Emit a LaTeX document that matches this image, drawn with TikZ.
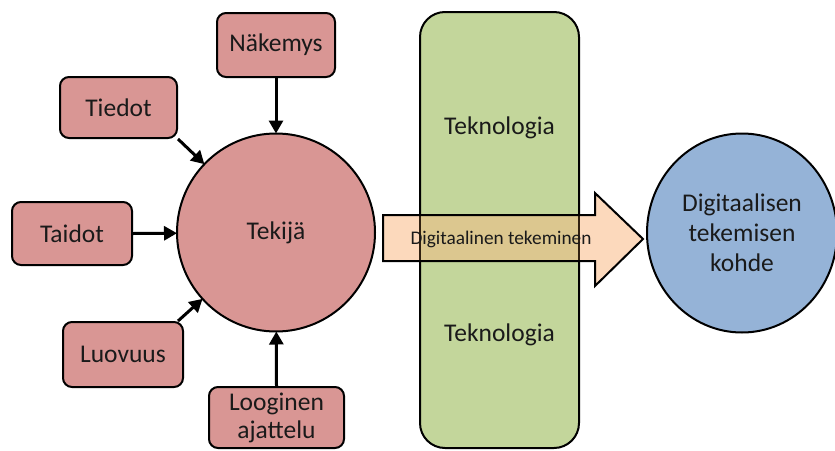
\documentclass[tikz,border=0pt]{standalone}
\usepackage{fontspec}
\setmainfont{Carlito}
\usetikzlibrary{arrows.meta,shapes.geometric}
\definecolor{pinkf}{HTML}{D99694}
\definecolor{greenf}{HTML}{C3D69B}
\definecolor{peachf}{HTML}{FCD9BC}
\definecolor{overf}{HTML}{DCC78F}
\definecolor{bluef}{HTML}{95B3D7}
\definecolor{txt}{HTML}{1A1A1A}
\tikzset{
  inbox/.style={draw=black, line width=2pt, fill=pinkf, rounded corners=9pt, align=center,
    font=\fontsize{25.5}{28}\selectfont, text=txt, inner sep=0pt},
  feed/.style={line width=3pt, -{Triangle[length=13pt,width=14pt]}, shorten >=-1pt},
}
\begin{document}
\begin{tikzpicture}[x=1pt,y=-1pt]
\useasboundingbox (0,0) rectangle (835,450);
% input boxes
\node[inbox, minimum width=118pt, minimum height=64pt] (nak) at (276,45) {Näkemys};
\node[inbox, minimum width=117pt, minimum height=61pt] (tie) at (118.5,107.5) {Tiedot};
\node[inbox, minimum width=120pt, minimum height=63pt] (tai) at (72,233.5) {Taidot};
\node[inbox, minimum width=120pt, minimum height=65pt] (luo) at (123,354.5) {Luovuus};
\node[inbox, minimum width=135pt, minimum height=61pt] (loo) at (276.5,417.5) {Looginen\\ajattelu};
% central circle
\node[circle, draw=black, line width=2pt, fill=pinkf, minimum size=198pt, inner sep=0pt,
  font=\fontsize{25.5}{28}\selectfont, text=txt] (tek) at (276,232.5) {Tekijä};
% connectors
\draw[feed] (nak.south) -- (tek);
\draw[feed] (tie.south east) -- (tek);
\draw[feed] (tai.east) -- (tek);
\draw[feed] ([xshift=-6pt]luo.north east) -- (tek);
\draw[feed] (loo.north) -- (tek);
% technology column
\node[draw=black, line width=2pt, fill=greenf, rounded corners=25pt, minimum width=159pt,
  minimum height=436pt, inner sep=0pt] (tech) at (499.5,230) {};
\node[font=\fontsize{25.5}{28}\selectfont, text=txt] (tk1) at (499.5,128) {Teknologia};
\node[font=\fontsize{25.5}{28}\selectfont, text=txt] (tk2) at (499.5,335) {Teknologia};
% big arrow
\coordinate (a1) at (383,215);
\coordinate (a2) at (595,215);
\coordinate (a3) at (595,193);
\coordinate (a4) at (643,239);
\coordinate (a5) at (595,286);
\coordinate (a6) at (595,261);
\coordinate (a7) at (383,261);
\fill[peachf] (a1) -- (a2) -- (a3) -- (a4) -- (a5) -- (a6) -- (a7) -- cycle;
\fill[overf] (420,215) rectangle (579,261);
\draw[black!75!brown, line width=1.5pt] (420,215) -- (420,261) (579,215) -- (579,261);
\draw[black, line width=2pt, line join=miter] (a1) -- (a2) -- (a3) -- (a4) -- (a5) -- (a6) -- (a7) -- cycle;
\node[font=\fontsize{19.3}{22}\selectfont, text=txt] (dt) at (501,239) {Digitaalinen tekeminen};
% target
\node[ellipse, draw=black, line width=2pt, fill=bluef, minimum width=190pt, minimum height=199pt,
  inner sep=0pt, align=center, font=\fontsize{25.5}{30}\selectfont, text=txt] (koh) at (742,233)
  {Digitaalisen\\tekemisen\\kohde};
\end{tikzpicture}
\end{document}
